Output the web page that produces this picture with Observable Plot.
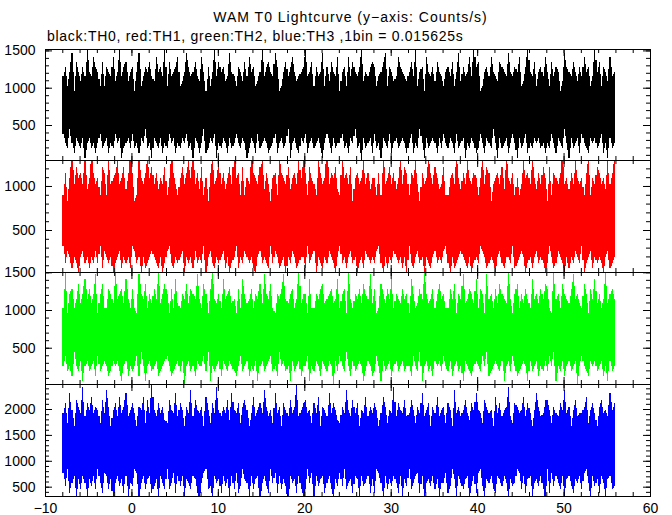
<!DOCTYPE html>
<html><head><meta charset="utf-8">
<script src="https://cdn.jsdelivr.net/npm/d3@7"></script>
<script src="https://cdn.jsdelivr.net/npm/@observablehq/plot@0.6"></script>
<style>
html,body{margin:0;padding:0;background:#fff;overflow:hidden}
#chart{position:relative;width:672px;height:515px;font-family:"Liberation Sans",Arial,Helvetica,sans-serif}
.t{position:absolute;font-size:14px;line-height:16px;white-space:pre;color:#000}
</style></head><body>
<div id="chart">
<div class="t" style="left:0;width:701px;text-align:center;top:9px;letter-spacing:1px">WAM T0 Lightcurve (y−axis: Counts/s)</div>
<div class="t" style="left:47px;top:28px;letter-spacing:0.72px">black:TH0, red:TH1, green:TH2, blue:TH3 ,1bin = 0.015625s</div>
</div>
<script>
// time binning
const binWidth = 0.015625;   // s per bin
const startTime = -8;        // s
const binsPerChunk = 16;     // each entry = max / min counts per bin within 16 bins (0.25 s)

// TH0 (black): per-chunk max / min counts per bin
const th0Hi = [
18,20,16,19,23,15,21,19,17,20,18,24,19,18,22,20,
19,16,21,16,20,19,18,22,17,19,24,18,20,21,17,19,
20,15,19,23,16,18,20,19,21,18,17,22,19,20,18,24,
16,21,18,19,20,22,16,17,19,23,20,18,19,21,18,17,
22,19,15,20,16,19,24,18,21,19,20,17,18,23,19,18,
16,20,19,17,21,18,22,19,20,16,17,19,24,18,20,21,
19,18,23,20,15,16,19,21,18,20,22,19,17,18,19,20,
24,18,19,21,16,20,18,19,23,16,20,17,21,19,18,22,
15,19,20,16,22,18,21,19,18,20,24,17,19,18,20,21,
20,16,18,19,21,23,16,20,19,17,18,22,20,19,18,17,
19,21,18,24,16,19,20,15,22,19,18,20,17,21,19,18,
16,19,20,18,21,16,19,23,17,20,18,19,22,18,24,20,
21,15,16,19,20,18,22,19,18,17,21,20,19,18,23,19,
18,20,19,22,16,17,20,24,19,18,21,16,19,20,18,22,
19,16,21,18,20,19,15,17,23,20,19,18,21,19,17,20,
18,22,19,20,16,18,24,19,21,16,20,19,17,22,18,19];
const th0Lo = [
6,4,3,7,4,2,5,4,3,5,1,4,5,3,4,2,
4,6,3,4,5,2,4,3,6,4,5,1,3,4,5,3,
6,3,4,2,5,4,7,3,4,1,5,4,3,5,2,4,
3,6,4,5,2,4,3,5,4,6,3,4,1,5,4,2,
4,7,2,3,5,4,6,1,4,3,5,4,2,5,3,4,
6,4,3,5,4,1,3,5,4,2,6,3,4,5,4,2,
3,4,6,2,4,5,3,4,7,1,4,5,3,2,5,4,
6,2,4,5,3,4,5,3,1,4,6,4,2,5,3,4,
4,6,3,4,2,5,4,7,3,4,0,5,3,4,5,2,
6,3,4,1,5,4,3,6,2,4,5,3,4,5,4,2,
4,6,2,4,3,7,4,1,5,3,4,5,4,2,5,3,
6,4,3,5,4,2,6,3,4,5,1,4,3,5,4,2,
3,6,4,2,5,4,3,7,4,1,5,3,4,5,2,4,
6,4,1,5,3,4,6,2,4,3,5,4,5,3,4,2,
4,3,6,4,2,5,4,3,7,4,1,5,3,4,5,2,
6,4,3,2,5,4,5,3,4,6,2,4,1,5,3,4];

// TH1 (red)
const th1Hi = [
14,18,13,17,21,16,19,17,18,16,20,15,17,22,18,16,
17,14,19,18,14,21,16,17,18,20,16,17,19,15,18,22,
18,13,14,20,17,16,18,21,17,19,16,18,15,17,16,19,
14,17,22,18,16,14,17,19,16,18,20,17,21,16,18,15,
19,14,17,13,18,21,16,17,20,16,18,15,17,19,16,22,
17,18,14,19,14,17,16,22,18,17,16,19,20,15,18,16,
13,17,18,14,21,18,17,16,19,15,17,18,16,20,17,21,
18,14,19,17,16,14,20,18,16,17,22,16,18,17,19,15,
14,21,17,18,16,19,13,17,18,16,17,20,16,18,15,17,
17,14,18,14,22,16,17,19,16,18,15,17,21,16,19,18,
14,18,17,20,16,13,18,16,17,21,18,16,19,17,15,16,
19,14,14,17,18,16,22,17,15,18,16,20,17,16,18,17,
14,17,21,16,19,18,13,16,17,18,16,19,15,22,17,16,
18,14,17,14,16,20,17,18,16,21,17,15,18,16,19,17,
13,19,14,18,17,16,18,22,16,17,15,18,16,20,17,16,
17,14,18,21,14,17,16,19,18,16,17,15,20,16,18,21];
const th1Lo = [
5,2,4,3,1,3,2,0,3,4,2,3,1,3,2,4,
2,5,1,4,3,2,3,0,2,3,4,1,3,2,3,1,
5,4,2,3,0,3,1,2,3,4,3,2,1,3,0,2,
4,5,2,1,3,2,3,4,0,3,2,3,1,4,2,3,
2,5,0,3,4,2,1,3,2,3,4,1,3,0,2,3,
5,1,3,2,4,3,2,3,1,0,3,4,2,3,2,1,
5,2,4,3,1,2,3,0,3,2,4,3,1,2,3,3,
1,5,2,3,4,0,3,2,1,3,2,4,3,2,0,3,
5,2,3,1,3,4,2,3,0,2,3,1,4,3,2,3,
2,4,5,2,0,3,1,3,2,4,3,2,3,1,3,0,
5,2,1,3,4,2,3,0,3,2,1,3,4,2,3,2,
4,5,2,0,3,1,2,3,4,3,2,1,3,0,2,3,
2,5,4,3,1,2,3,2,0,3,4,2,1,3,3,2,
5,1,2,3,4,3,0,2,3,1,3,4,2,3,2,0,
2,5,3,1,2,4,3,2,0,3,1,3,2,4,3,2,
5,0,2,3,4,1,3,2,3,2,0,3,4,1,2,3];

// TH2 (green)
const th2Hi = [
16,24,15,19,20,16,18,21,17,19,22,18,20,17,19,23,
15,19,21,16,16,20,19,17,24,18,19,20,17,22,18,16,
20,16,15,23,19,18,21,16,19,17,20,18,24,17,19,21,
19,15,20,16,22,17,16,19,18,21,17,20,19,18,23,18,
16,21,19,15,20,24,18,17,19,16,22,18,19,20,17,18,
15,20,16,22,19,17,18,20,16,19,18,21,17,23,19,18,
21,16,15,19,18,20,23,18,17,19,20,16,18,24,17,19,
19,15,22,16,16,19,18,20,21,17,18,19,20,17,18,22,
16,19,20,15,24,18,16,19,18,20,17,21,19,18,23,17,
20,15,16,21,19,17,20,18,22,16,19,18,17,20,18,19,
15,22,19,16,17,20,18,24,19,17,18,20,16,19,21,18,
19,16,16,20,18,21,15,19,18,23,17,18,20,19,17,22,
16,20,19,15,23,18,19,16,20,17,21,19,18,17,24,18,
15,19,21,16,19,17,20,18,16,22,18,19,17,20,18,21,
20,16,15,24,18,19,16,21,19,18,17,20,23,18,19,17,
16,21,19,15,20,18,22,17,19,16,18,24,17,19,20,18];
const th2Lo = [
4,6,3,4,2,7,4,3,5,1,4,5,3,4,5,2,
6,3,4,5,4,2,3,5,4,5,3,1,4,5,2,4,
3,4,6,2,7,4,1,4,5,3,4,5,2,3,4,5,
6,4,2,3,4,5,3,5,0,4,5,3,4,2,5,4,
4,6,3,7,1,4,3,4,5,2,5,4,3,5,4,3,
2,4,6,3,4,5,2,4,3,5,1,4,5,3,4,5,
6,3,4,2,7,4,5,3,4,1,5,3,4,5,2,4,
4,6,1,4,3,5,4,2,5,4,3,5,4,0,5,3,
6,4,3,7,4,2,5,3,4,5,4,1,3,5,4,2,
3,6,4,1,5,3,4,5,2,4,5,3,4,5,3,4,
4,2,6,4,3,7,1,4,5,3,4,2,5,4,5,3,
6,4,3,5,2,4,5,3,4,1,5,4,3,2,4,5,
4,3,6,4,7,2,3,4,5,4,3,5,1,4,5,3,
6,4,2,3,4,5,4,1,5,3,4,5,2,4,3,5,
3,6,4,7,1,4,3,5,2,4,5,3,4,5,0,4,
6,4,3,2,5,4,5,3,4,5,2,4,1,5,3,4];

// TH3 (blue)
const th3Hi = [
30,33,27,36,31,26,34,32,30,38,29,33,31,35,30,32,
31,27,34,30,37,32,26,31,33,29,35,30,32,36,29,31,
33,30,26,32,31,35,27,34,30,39,31,29,33,30,32,28,
27,34,31,30,36,29,33,31,26,32,30,37,29,34,31,30,
32,26,35,31,27,33,30,38,31,29,32,30,34,28,36,31,
30,33,27,32,34,31,26,30,35,29,31,33,30,37,32,29,
31,27,36,30,32,26,33,31,29,34,30,32,39,29,31,33,
34,30,31,27,33,30,35,26,32,31,29,36,30,33,31,28,
27,32,30,37,31,29,34,30,33,26,31,30,35,29,32,30,
33,31,26,30,35,32,27,31,30,38,29,33,31,30,34,29,
30,34,31,27,32,30,36,29,31,33,26,32,30,35,29,31,
32,27,33,31,26,37,30,32,29,31,34,30,28,33,31,36,
31,30,27,34,32,30,31,26,35,30,33,29,31,32,38,29,
27,33,32,30,31,35,29,33,30,26,31,36,32,29,30,34,
34,31,27,32,30,29,33,31,37,30,32,26,31,34,29,30,
30,32,35,27,31,33,30,26,32,34,30,31,29,36,31,33];
const th3Lo = [
12,8,13,6,9,11,4,10,7,11,9,5,10,8,11,7,
13,9,6,12,11,7,10,3,9,11,8,10,6,11,5,9,
8,13,12,5,9,11,7,10,11,6,8,10,4,11,9,7,
13,7,9,12,6,11,8,11,5,10,9,7,11,10,6,3,
9,12,13,7,8,4,11,9,10,6,11,8,10,5,11,7,
12,6,8,13,10,9,5,11,7,10,11,4,9,11,8,6,
13,9,12,6,11,7,10,8,3,11,9,10,6,11,7,5,
7,13,9,12,5,11,8,10,11,6,9,11,7,4,10,8,
12,8,13,7,9,10,6,11,10,5,11,8,9,11,6,10,
6,13,12,9,4,11,7,10,8,11,9,6,11,5,10,8,
13,7,9,11,12,6,11,3,9,10,8,11,7,10,5,9,
9,12,6,8,13,10,5,11,9,7,10,11,4,8,11,6,
12,13,8,5,10,9,11,7,6,11,10,8,11,9,4,10,
8,9,13,12,7,11,6,10,11,5,9,10,8,11,7,3,
13,6,12,8,11,9,7,11,5,10,11,8,6,10,9,11,
7,12,13,9,4,11,8,10,6,11,9,5,10,11,7,8];

// axis ticks / labels
const xTicks = [-10, 0, 10, 20, 30, 40, 50, 60];
const xMinorTicks = d3.range(-10, 61, 2);
const yTicks0 = [500, 1000, 1500];
const yTicks1 = [500, 1000];
const yTicks2 = [500, 1000, 1500];
const yTicks3 = [500, 1000, 1500, 2000];

// counts per bin -> counts/s; each chunk = a narrow spike cell plus a
// join cell towards the next chunk (midway between the two envelopes)
function cells(hi, lo) {
  const dur = binsPerChunk * binWidth, q = dur / 4;
  const out = [];
  hi.forEach((h, i) => {
    const t = startTime + (i + 0.5) * dur;
    out.push({x1: i === 0 ? t - 2 * q : t - q, x2: t + q, lo: lo[i] / binWidth, hi: h / binWidth});
    if (i < hi.length - 1) {
      out.push({x1: t + q, x2: t + dur - q,
        lo: (lo[i] + lo[i + 1]) / 2 / binWidth,
        hi: (h + hi[i + 1]) / 2 / binWidth});
    } else {
      out[out.length - 1].x2 = t + 2 * q;
    }
  });
  return out;
}

const panels = [
  {hi: th0Hi, lo: th0Lo, color: "#000000", domain: [31, 1519], ticks: yTicks0, top: 49, h: 111},
  {hi: th1Hi, lo: th1Lo, color: "#ff0000", domain: [23, 1295], ticks: yTicks1, top: 160, h: 112},
  {hi: th2Hi, lo: th2Lo, color: "#00ff00", domain: [19, 1504], ticks: yTicks2, top: 272, h: 112},
  {hi: th3Hi, lo: th3Lo, color: "#0000ff", domain: [320, 2483], ticks: yTicks3, top: 384, h: 112}
];

const W = 672, ML = 45, MR = 22, innerW = W - ML - MR;
const chart = document.getElementById("chart");
const font = '"Liberation Sans", Arial, Helvetica, sans-serif';

panels.forEach((p, k) => {
  const last = k === panels.length - 1;
  const mt = 10, mb = last ? 18 : 10;
  const yMinor = d3.range(Math.ceil(p.domain[0] / 100) * 100, p.domain[1], 100);
  const yMajor = yMinor.filter(v => v % 500 === 0);
  const svg = Plot.plot({
    width: W, height: p.h + mt + mb,
    marginLeft: ML, marginRight: MR, marginTop: mt, marginBottom: mb,
    style: {background: "transparent", overflow: "visible", fontFamily: font, fontSize: "14px", color: "black"},
    x: {domain: [-10, 60], axis: null},
    y: {domain: p.domain, clamp: true, axis: null},
    marks: [
      Plot.rect(cells(p.hi, p.lo), {x1: "x1", x2: "x2", y1: "lo", y2: "hi", fill: p.color, inset: 0, shapeRendering: "crispEdges"}),
      Plot.ruleY(yMinor, {insetRight: innerW - 4, stroke: "black"}),
      Plot.ruleY(yMinor, {insetLeft: innerW - 4, stroke: "black"}),
      Plot.ruleY(yMajor, {insetRight: innerW - 7, stroke: "black"}),
      Plot.ruleY(yMajor, {insetLeft: innerW - 7, stroke: "black"}),
      Plot.ruleX(xMinorTicks, {insetBottom: p.h - 4, stroke: "black"}),
      Plot.ruleX(xMinorTicks, {insetTop: p.h - 4, stroke: "black"}),
      Plot.ruleX(xTicks, {insetBottom: p.h - 7, stroke: "black"}),
      Plot.ruleX(xTicks, {insetTop: p.h - 7, stroke: "black"}),
      Plot.frame({stroke: "black"}),
      Plot.axisY(p.ticks, {tickSize: 0, tickPadding: 10, tickFormat: "d", fontSize: 14, fill: "black", label: null}),
      last ? Plot.axisX(xTicks, {tickSize: 0, tickPadding: 7, tickFormat: "d", fontSize: 14, fill: "black", label: null}) : null
    ]
  });
  svg.style.position = "absolute";
  svg.style.left = "0px";
  svg.style.top = (p.top - mt) + "px";
  chart.appendChild(svg);
});
</script>
</body></html>
